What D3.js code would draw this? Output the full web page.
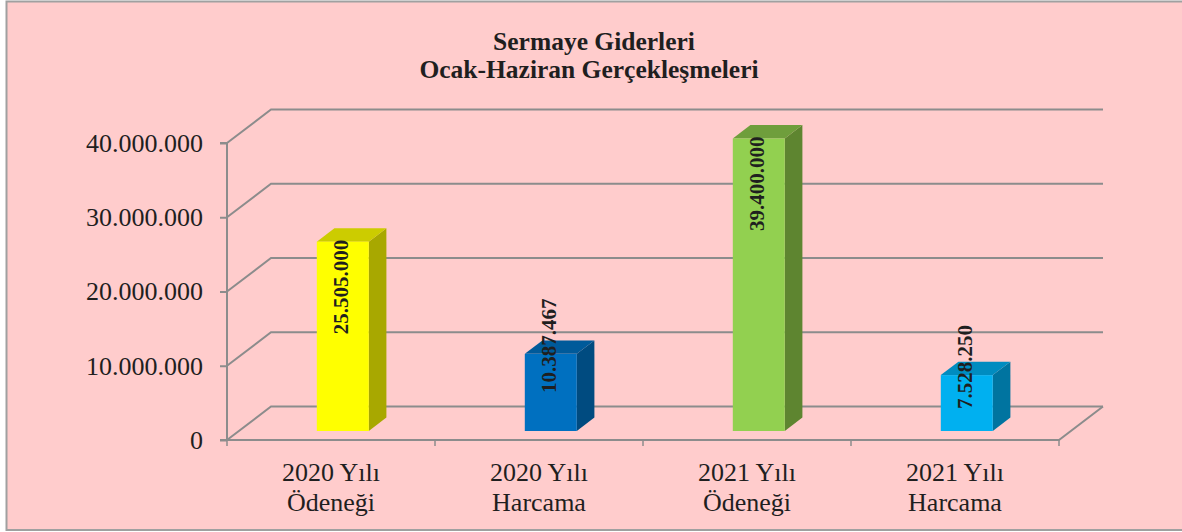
<!DOCTYPE html>
<html>
<head>
<meta charset="utf-8">
<script src="https://cdn.jsdelivr.net/npm/d3@7"></script>
<style>
  body { margin: 0; background: #fff; }
  text { font-family: "Liberation Serif", "Times New Roman", serif; fill: #1f1f1f; }
</style>
</head>
<body>
<div id="chart"></div>
<script>
// chart data
var titleLines = ["Sermaye Giderleri", "Ocak-Haziran Gerçekleşmeleri"];
var categories = ["2020 Yılı|Ödeneği", "2020 Yılı|Harcama", "2021 Yılı|Ödeneği", "2021 Yılı|Harcama"];
var values = [25505000, 10387467, 39400000, 7528250];
var yTicks = [0, 10000000, 20000000, 30000000, 40000000];
var labelTexts = ["25.505.000", "10.387.467", "39.400.000", "7.528.250"];

// colours for each bar: front, top, side
var frontColors = ["#ffff00", "#0070c0", "#92d050", "#00b0f0"];
var topColors = ["#cccc00", "#005a9a", "#6f9e3c", "#008cc0"];
var sideColors = ["#a8a800", "#004b80", "#5e8530", "#0074a0"];

var svgWidth = 1182;
var svgHeight = 532;

var svg = d3.select("#chart")
  .append("svg")
  .attr("width", svgWidth)
  .attr("height", svgHeight);

// background + border
svg.append("rect")
  .attr("x", 6.5)
  .attr("y", 1.5)
  .attr("width", svgWidth)
  .attr("height", 528.5)
  .attr("fill", "#ffcccc")
  .attr("stroke", "#a0a0a0")
  .attr("stroke-width", 2);

// plot geometry (front plane)
var x0 = 227, x1 = 1059;
var y0 = 440, yTop = 143;
var depth = { dx: 44, dy: -33.5 };      // back wall offset
var barDepth = { dx: 17.6, dy: -13.4 }; // bar thickness
var barShift = { dx: 11.8, dy: -9 };    // bars sit a bit behind the front

var xScale = d3.scaleBand()
  .domain(categories)
  .range([x0, x1])
  .paddingInner(0.75)
  .paddingOuter(0.375);

var yScale = d3.scaleLinear()
  .domain([0, 40000000])
  .range([y0, yTop]);

var gridColor = "#8c8c8c";

// gridlines on the back wall with diagonal side
var grid = svg.append("g");
yTicks.forEach(function(t) {
  var y = yScale(t);
  grid.append("polyline")
    .attr("points", [[x0, y], [x0 + depth.dx, y + depth.dy], [x1 + depth.dx, y + depth.dy]].join(" "))
    .attr("fill", "none")
    .attr("stroke", gridColor)
    .attr("stroke-width", 2);
});

// floor front edge + right diagonal
grid.append("polyline")
  .attr("points", [[x0, y0], [x1, y0], [x1 + depth.dx, y0 + depth.dy]].join(" "))
  .attr("fill", "none")
  .attr("stroke", gridColor)
  .attr("stroke-width", 2);

// category ticks (boundaries between bands)
var catTicks = [x0].concat(categories.map(function(c, i) { return x0 + xScale.step() * (i + 1); }));
catTicks.forEach(function(xt) {
  grid.append("line")
    .attr("x1", xt).attr("x2", xt)
    .attr("y1", y0).attr("y2", y0 + 6)
    .attr("stroke", gridColor)
    .attr("stroke-width", 1.5);
});

// y axis
var trFormat = d3.formatLocale({ decimal: ",", thousands: ".", grouping: [3], currency: ["", ""] }).format(",");
var yAxis = svg.append("g")
  .attr("transform", `translate(${x0}, 0)`)
  .call(d3.axisLeft(yScale).tickValues(yTicks).tickSize(7).tickPadding(17).tickFormat(trFormat));

yAxis.select(".domain")
  .attr("d", `M-7,${yTop}H0V${y0}H-7`)
  .attr("stroke", gridColor)
  .attr("stroke-width", 2);
yAxis.selectAll(".tick line").attr("stroke", gridColor).attr("stroke-width", 2);
yAxis.selectAll(".tick text")
  .attr("font-size", "26px")
  .attr("font-family", "Liberation Serif")
  .attr("fill", "#1f1f1f");

// bars (3D boxes)
var bars = svg.append("g");
values.forEach(function(v, i) {
  var c = categories[i];
  var bx = xScale(c) + barShift.dx;
  var bw = xScale.bandwidth();
  var by = yScale(v) + barShift.dy;
  var bb = y0 + barShift.dy;
  var g = bars.append("g");

  // side face
  g.append("polygon")
    .attr("points", [[bx + bw, by], [bx + bw + barDepth.dx, by + barDepth.dy],
      [bx + bw + barDepth.dx, bb + barDepth.dy], [bx + bw, bb]].join(" "))
    .attr("fill", sideColors[i]);

  // top face
  g.append("polygon")
    .attr("points", [[bx, by], [bx + barDepth.dx, by + barDepth.dy],
      [bx + bw + barDepth.dx, by + barDepth.dy], [bx + bw, by]].join(" "))
    .attr("fill", topColors[i]);

  // front face
  g.append("rect")
    .attr("x", bx)
    .attr("y", by)
    .attr("width", bw)
    .attr("height", bb - by)
    .attr("fill", frontColors[i]);
});

// data labels (rotated), inside end when it fits, otherwise centred near the top
var labelSize = 21;
values.forEach(function(v, i) {
  var c = categories[i];
  var cx = xScale(c) + barShift.dx + xScale.bandwidth() / 2 - 2;
  var by = yScale(v) + barShift.dy;
  var bh = y0 + barShift.dy - by;
  var t = svg.append("text")
    .attr("font-size", labelSize + "px")
    .attr("font-weight", "bold")
    .attr("text-anchor", "middle")
    .attr("dominant-baseline", "central")
    .text(labelTexts[i]);
  var len = t.node().getComputedTextLength();
  var cy = bh > len + 20 ? by - 2 + len / 2 : by - 8;
  t.attr("transform", `translate(${cx}, ${cy}) rotate(-90)`);
});

// category labels
var catLabels = svg.append("g");
categories.forEach(function(c) {
  var parts = c.split("|");
  var cx = xScale(c) + xScale.bandwidth() / 2;
  var t = catLabels.append("text")
    .attr("text-anchor", "middle")
    .attr("font-size", "26px");
  t.append("tspan").attr("x", cx).attr("y", 481).text(parts[0]);
  t.append("tspan").attr("x", cx).attr("y", 511).text(parts[1]);
});

// title
var title = svg.append("g")
  .attr("font-size", "25.5px")
  .attr("font-weight", "bold");
title.append("text").attr("text-anchor", "middle").attr("x", 594).attr("y", 49.5).text(titleLines[0]);
title.append("text").attr("text-anchor", "middle").attr("x", 589).attr("y", 78).text(titleLines[1]);
</script>
</body>
</html>
